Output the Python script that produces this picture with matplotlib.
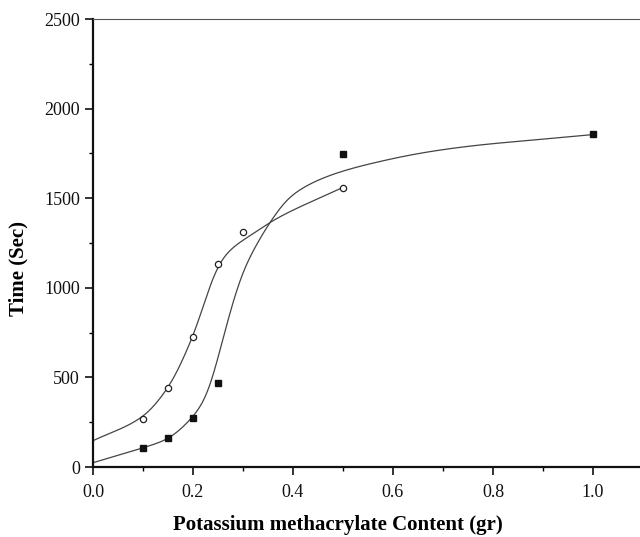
import numpy as np
import matplotlib
matplotlib.use("Agg")
import matplotlib.pyplot as plt
from matplotlib.ticker import MultipleLocator

# Measured data points
x_open = [0.10, 0.15, 0.20, 0.25, 0.30, 0.50]
y_open = [268, 441, 725, 1133, 1311, 1557]
x_fill = [0.10, 0.15, 0.20, 0.25, 0.50, 1.00]
y_fill = [106, 162, 273, 469, 1747, 1858]

# Fitted curves
cx_open = [0.0, 0.099, 0.151, 0.199, 0.249, 0.265, 0.301, 0.327, 0.357, 0.499]
cy_open = [147, 281, 448, 725, 1115, 1185, 1268, 1313, 1370, 1559]
cx_fill = [0.0, 0.094, 0.147, 0.200, 0.227, 0.249, 0.277, 0.301, 0.321,
           0.357, 0.394, 0.467, 0.574, 0.674, 0.774, 0.874, 1.0]
cy_fill = [24, 102, 154, 281, 392, 597, 895, 1099, 1211,
           1378, 1508, 1620, 1705, 1760, 1797, 1823, 1855]

x_ticks = [0.0, 0.2, 0.4, 0.6, 0.8, 1.0]
y_ticks = [0, 500, 1000, 1500, 2000, 2500]


def pchip(x, y, xn):
    x = np.asarray(x, float); y = np.asarray(y, float)
    h = np.diff(x); d = np.diff(y) / h
    n = len(x); m = np.zeros(n)
    for k in range(1, n - 1):
        if d[k - 1] * d[k] <= 0:
            m[k] = 0
        else:
            w1 = 2 * h[k] + h[k - 1]; w2 = h[k] + 2 * h[k - 1]
            m[k] = (w1 + w2) / (w1 / d[k - 1] + w2 / d[k])
    m[0] = d[0]; m[-1] = d[-1]
    idx = np.clip(np.searchsorted(x, xn) - 1, 0, n - 2)
    t = (xn - x[idx]) / h[idx]
    h00 = 2 * t**3 - 3 * t**2 + 1; h10 = t**3 - 2 * t**2 + t
    h01 = -2 * t**3 + 3 * t**2; h11 = t**3 - t**2
    return h00 * y[idx] + h10 * h[idx] * m[idx] + h01 * y[idx + 1] + h11 * h[idx] * m[idx + 1]


def smooth_curve(cx, cy, n=600, sigma=0.012):
    x0, x1 = cx[0], cx[-1]
    dx = (x1 - x0) / (n - 1)
    pad = int(4 * sigma / dx)
    xs = np.linspace(x0, x1, n)
    ys = pchip(cx, cy, xs)
    sl0 = (ys[1] - ys[0]) / dx; sl1 = (ys[-1] - ys[-2]) / dx
    left = ys[0] - sl0 * dx * np.arange(pad, 0, -1)
    right = ys[-1] + sl1 * dx * np.arange(1, pad + 1)
    ext = np.concatenate([left, ys, right])
    k = np.arange(-pad, pad + 1) * dx
    w = np.exp(-0.5 * (k / sigma) ** 2); w /= w.sum()
    sm = np.convolve(ext, w, mode='same')[pad:pad + n]
    return xs, sm


plt.rcParams['font.family'] = ['Liberation Serif', 'DejaVu Serif']
fig = plt.figure(figsize=(6.4, 5.37), dpi=100)
ax = fig.add_axes([93 / 640, 1 - 467 / 537, 1 - 93 / 640, (467 - 19) / 537])

xs, ys = smooth_curve(cx_open, cy_open, sigma=0.01)
ax.plot(xs, ys, color='#444444', lw=0.9)
xs2, ys2 = smooth_curve(cx_fill, cy_fill)
ax.plot(xs2, ys2, color='#444444', lw=0.9)

ax.plot(x_open, y_open, 'o', ms=4.5, mfc='white', mec='#222222', mew=0.9, clip_on=False)
ax.plot(x_fill, y_fill, 's', ms=4.5, mfc='#111111', mec='#111111', clip_on=False)

ax.set_xlim(0, (640 - 93) / 500)
ax.set_ylim(0, 2500)
ax.set_xticks(x_ticks)
ax.set_xticklabels([f"{v:.1f}" for v in x_ticks])
ax.set_yticks(y_ticks)
ax.xaxis.set_minor_locator(MultipleLocator(0.1))
ax.yaxis.set_minor_locator(MultipleLocator(250))
ax.tick_params(which='major', direction='out', length=6, width=1.2, labelsize=13, colors='#111111')
ax.tick_params(which='minor', direction='out', length=3, width=1.0)
ax.tick_params(axis='x', pad=6)

for s in ['left', 'bottom']:
    ax.spines[s].set_linewidth(1.6)
    ax.spines[s].set_color('#111111')
ax.spines['top'].set_linewidth(0.8)
ax.spines['top'].set_color('#555555')
ax.spines['right'].set_visible(False)

ax.set_xlabel('Potassium methacrylate Content (gr)', fontsize=15, fontweight='bold')
ax.xaxis.set_label_coords((338 - 93) / 547, -(525 - 467) / 448, transform=ax.transAxes)
ax.xaxis.label.set_va('center')
ax.set_ylabel('Time (Sec)', fontsize=15, fontweight='bold')
ax.yaxis.set_label_coords(-(93 - 18) / 547, (467 - 268) / 448, transform=ax.transAxes)
ax.yaxis.label.set_va('center')

fig.savefig('out.png', dpi=100)
